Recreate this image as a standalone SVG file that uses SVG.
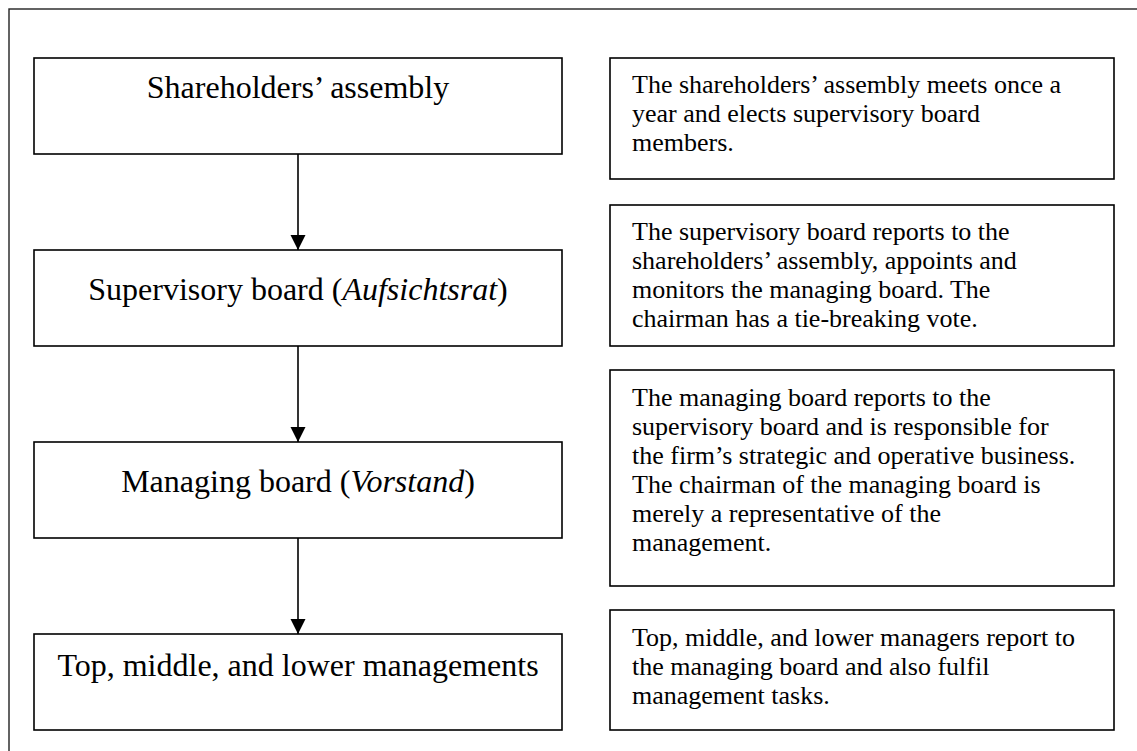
<svg xmlns="http://www.w3.org/2000/svg" width="1137" height="751" viewBox="0 0 1137 751">
  <style>
    .frame { fill: none; stroke: #222; stroke-width: 1.4; }
    .box { fill: #fff; stroke: #000; stroke-width: 1.6; }
    .title { font-family: "Liberation Serif", "Times New Roman", serif; font-size: 32px; fill: #000; text-anchor: middle; }
    .note { font-family: "Liberation Serif", "Times New Roman", serif; font-size: 26px; fill: #000; }
    .link { stroke: #000; stroke-width: 1.6; fill: none; }
  </style>
  <defs>
    <marker id="arrow" markerUnits="userSpaceOnUse" markerWidth="16" markerHeight="16" refX="15" refY="7.5" orient="auto">
      <path d="M0,0 L15,7.5 L0,15 Z" fill="#000"/>
    </marker>
  </defs>

  <rect width="1137" height="751" fill="#fff"/>
  <!-- outer frame, running off the right and bottom edges -->
  <rect class="frame" x="9" y="9" width="1140" height="760"/>

  <!-- hierarchy boxes -->
  <g id="shareholders">
    <rect class="box" x="34" y="58" width="528" height="96"/>
    <text class="title" x="298" y="98">Shareholders’ assembly</text>
  </g>
  <g id="supervisory">
    <rect class="box" x="34" y="250" width="528" height="96"/>
    <text class="title" x="298" y="300">Supervisory board (<tspan font-style="italic">Aufsichtsrat</tspan>)</text>
  </g>
  <g id="managing">
    <rect class="box" x="34" y="442" width="528" height="96"/>
    <text class="title" x="298" y="492">Managing board (<tspan font-style="italic">Vorstand</tspan>)</text>
  </g>
  <g id="managements">
    <rect class="box" x="34" y="634" width="528" height="96"/>
    <text class="title" x="298" y="676">Top, middle, and lower managements</text>
  </g>

  <!-- descriptions -->
  <g id="note-shareholders">
    <rect class="box" x="610" y="58" width="504" height="121"/>
    <text class="note" x="632" y="93">
      <tspan x="632">The shareholders’ assembly meets once a</tspan>
      <tspan x="632" dy="29">year and elects supervisory board</tspan>
      <tspan x="632" dy="29">members.</tspan>
    </text>
  </g>
  <g id="note-supervisory">
    <rect class="box" x="610" y="205" width="504" height="141"/>
    <text class="note" x="632" y="240">
      <tspan x="632">The supervisory board reports to the</tspan>
      <tspan x="632" dy="29">shareholders’ assembly, appoints and</tspan>
      <tspan x="632" dy="29">monitors the managing board. The</tspan>
      <tspan x="632" dy="29">chairman has a tie-breaking vote.</tspan>
    </text>
  </g>
  <g id="note-managing">
    <rect class="box" x="610" y="370" width="504" height="216"/>
    <text class="note" x="632" y="406">
      <tspan x="632">The managing board reports to the</tspan>
      <tspan x="632" dy="29">supervisory board and is responsible for</tspan>
      <tspan x="632" dy="29">the firm’s strategic and operative business.</tspan>
      <tspan x="632" dy="29">The chairman of the managing board is</tspan>
      <tspan x="632" dy="29">merely a representative of the</tspan>
      <tspan x="632" dy="29">management.</tspan>
    </text>
  </g>
  <g id="note-managements">
    <rect class="box" x="610" y="610" width="504" height="120"/>
    <text class="note" x="632" y="646">
      <tspan x="632">Top, middle, and lower managers report to</tspan>
      <tspan x="632" dy="29">the managing board and also fulfil</tspan>
      <tspan x="632" dy="29">management tasks.</tspan>
    </text>
  </g>

  <!-- connectors -->
  <g id="connectors">
    <line class="link" x1="298" y1="154" x2="298" y2="250" marker-end="url(#arrow)"/>
    <line class="link" x1="298" y1="346" x2="298" y2="442" marker-end="url(#arrow)"/>
    <line class="link" x1="298" y1="538" x2="298" y2="634" marker-end="url(#arrow)"/>
  </g>
</svg>
